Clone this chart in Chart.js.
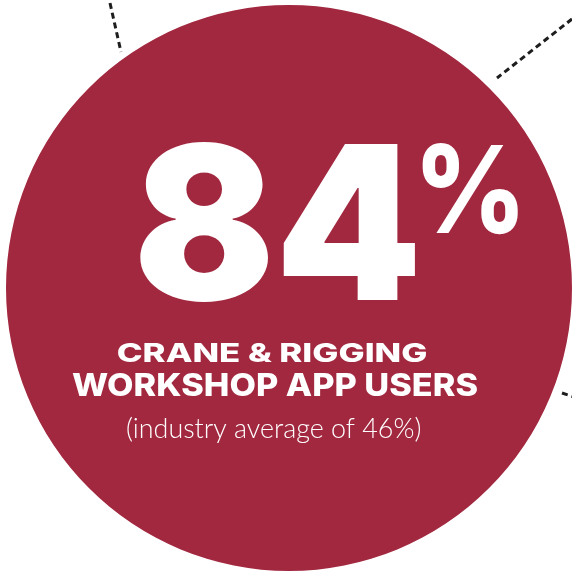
<!DOCTYPE html>
<html lang="en">
<head>
  <meta charset="UTF-8" />
  <title>Crane & Rigging Workshop App Users</title>
  <script src="https://cdn.jsdelivr.net/npm/chart.js"></script>
  <style>
    html, body { margin: 0; padding: 0; background: #fff; }
    #c { display: block; }
  </style>
</head>
<body>
  <canvas id="c" width="572" height="572"></canvas>

  <script>
    // data
    const labels = ['Crane & Rigging Workshop App Users'];
    const share = [84];
    const industryAverage = [46];
    const headline = ['CRANE & RIGGING', 'WORKSHOP APP USERS'];

    const crimson = '#a2283f';

    // ink boxes for each text line (left, right, top, bottom)
    const textBoxes = {
      big: { l: 140, r: 415, t: 142, b: 302 },
      pct: { l: 422, r: 518, t: 143, b: 235 },
      line1: { l: 118, r: 427, t: 343, b: 362 },
      line2: { l: 72, r: 477, t: 373, b: 396 },
      note: { l: 127, r: 420, t: 417, b: 443 }
    };

    // dotted leader lines sticking out from behind the circle
    const leaders = [
      [[110, 3], [121, 52]],
      [[572, 19], [497, 78]],
      [[562, 393], [574, 397]]
    ];

    function fitText(ctx, text, font, box) {
      ctx.font = font;
      const m = ctx.measureText(text);
      const w = m.actualBoundingBoxLeft + m.actualBoundingBoxRight;
      const h = m.actualBoundingBoxAscent + m.actualBoundingBoxDescent;
      ctx.save();
      ctx.translate(box.l, box.t);
      ctx.scale((box.r - box.l) / w, (box.b - box.t) / h);
      ctx.textAlign = 'left';
      ctx.textBaseline = 'alphabetic';
      ctx.fillText(text, m.actualBoundingBoxLeft, m.actualBoundingBoxAscent);
      ctx.restore();
    }

    const decor = {
      id: 'decor',
      beforeDatasetsDraw(chart) {
        const ctx = chart.ctx;
        ctx.save();
        ctx.strokeStyle = '#1e1e1e';
        ctx.lineWidth = 3;
        ctx.setLineDash([6, 4]);
        leaders.forEach(([a, b]) => {
          ctx.beginPath();
          ctx.moveTo(a[0], a[1]);
          ctx.lineTo(b[0], b[1]);
          ctx.stroke();
        });
        ctx.restore();
      },
      afterDatasetsDraw(chart) {
        const ctx = chart.ctx;
        ctx.save();
        ctx.fillStyle = '#ffffff';
        fitText(ctx, String(share[0]), '900 220px Inter, "DejaVu Sans", sans-serif', textBoxes.big);
        fitText(ctx, '%', '800 120px Inter, "DejaVu Sans", sans-serif', textBoxes.pct);
        fitText(ctx, headline[0], '800 27px Inter, "DejaVu Sans", sans-serif', textBoxes.line1);
        fitText(ctx, headline[1], '800 27px Inter, "DejaVu Sans", sans-serif', textBoxes.line2);
        fitText(ctx, `(industry average of ${industryAverage[0]}%)`, '300 24px Lato, "Open Sans", sans-serif', textBoxes.note);
        ctx.restore();
      }
    };

    new Chart(document.getElementById('c'), {
      type: 'pie',
      data: {
        labels: labels,
        datasets: [{
          data: share,
          backgroundColor: crimson,
          borderWidth: 0
        }]
      },
      options: {
        responsive: false,
        animation: false,
        layout: { padding: { left: 6, top: 5, right: 0, bottom: 1 } },
        plugins: {
          legend: { display: false },
          tooltip: { enabled: false }
        }
      },
      plugins: [decor]
    });
  </script>
</body>
</html>
